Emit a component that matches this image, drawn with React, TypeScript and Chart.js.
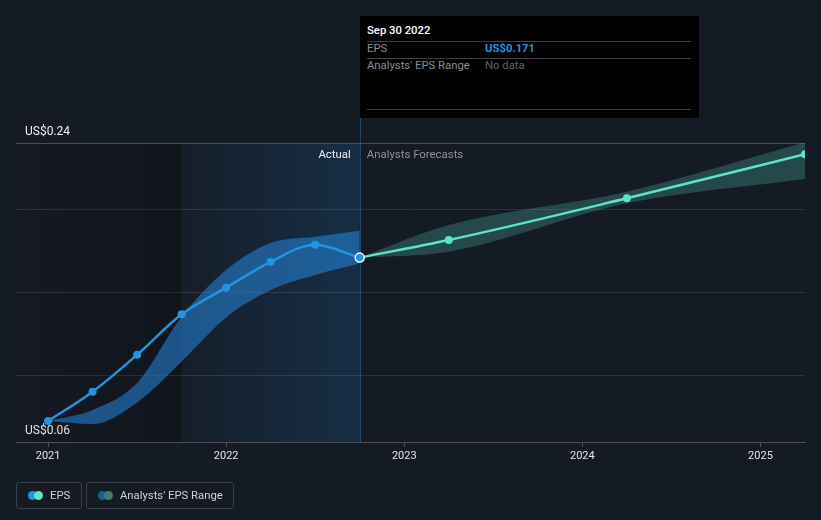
import React, { useEffect, useRef } from 'react';
import { Chart, registerables } from 'chart.js';
Chart.register(...registerables);

// x values are decimal years (quarter ends: 2021.0 = Dec 31 2020, 2021.25 = Mar 31 2021, ...)
const actualDates = [2021.0, 2021.25, 2021.5, 2021.75, 2022.0, 2022.25, 2022.5, 2022.75];
const actualEps = [0.0726, 0.0903, 0.1125, 0.1369, 0.1529, 0.1685, 0.1788, 0.171];
const actualRangeHigh = [0.0726, 0.0793, 0.0955, 0.1354, 0.1635, 0.1798, 0.1836, 0.1872];
const actualRangeLow = [0.0726, 0.0708, 0.0838, 0.1085, 0.1350, 0.1515, 0.1605, 0.1676];
const forecastDates = [2022.75, 2023.25, 2024.25, 2025.25];
const forecastEps = [0.171, 0.1816, 0.2067, 0.2332];
const forecastHigh = [0.171, 0.1906, 0.2107, 0.2404];
const forecastLow = [0.171, 0.1746, 0.2037, 0.2183];
const yearTicks = [2021, 2022, 2023, 2024, 2025];
const yTicks = [0.06, 0.1, 0.15, 0.2, 0.24];
const yLabelled = [0.06, 0.24];
const pastStart = 2021.75;
const todayX = 2022.75;
const xMin = 2020.82;
const xMax = 2025.25;

const FONT = 'Roboto, "Noto Sans", sans-serif';
const BLUE = '#2394df';
const TEAL = '#5fe3c8';

const pts = (xs: number[], ys: number[]) => xs.map((x, i) => ({ x, y: ys[i] }));

const regionPlugin = {
  id: 'regions',
  beforeDatasetsDraw(chart: any) {
    const { ctx, chartArea, scales } = chart;
    const x = scales.x;
    const x0 = chartArea.left;
    const x1 = x.getPixelForValue(pastStart);
    const x2 = x.getPixelForValue(todayX);
    const top = chartArea.top + 1;
    const bottom = chartArea.bottom;
    ctx.save();
    const g1 = ctx.createLinearGradient(x0, 0, x1, 0);
    g1.addColorStop(0, 'rgba(0,0,0,0.03)');
    g1.addColorStop(1, 'rgba(0,0,0,0.18)');
    ctx.fillStyle = g1;
    ctx.fillRect(x0, top, x1 - x0, bottom - top);
    const g2 = ctx.createLinearGradient(x1, 0, x2, 0);
    g2.addColorStop(0, 'rgba(33,150,243,0.03)');
    g2.addColorStop(1, 'rgba(33,150,243,0.16)');
    ctx.fillStyle = g2;
    ctx.fillRect(x1, top, x2 - x1, bottom - top);
    ctx.strokeStyle = 'rgba(40,110,170,0.55)';
    ctx.lineWidth = 1;
    ctx.beginPath();
    ctx.moveTo(Math.round(x2) + 0.5, 16);
    ctx.lineTo(Math.round(x2) + 0.5, bottom);
    ctx.stroke();
    ctx.font = `11.4px ${FONT}`;
    ctx.textBaseline = 'middle';
    ctx.textAlign = 'right';
    ctx.fillStyle = '#f0f0f0';
    ctx.fillText('Actual', x2 - 9, chartArea.top + 12);
    ctx.textAlign = 'left';
    ctx.fillStyle = '#8d9299';
    ctx.fillText('Analysts Forecasts', x2 + 7, chartArea.top + 12);
    ctx.restore();
  },
};

function EpsChart() {
  const ref = useRef<HTMLCanvasElement | null>(null);
  useEffect(() => {
    document.body.style.margin = '0';
    const canvas = ref.current;
    if (!canvas) return;
    const n = actualDates.length;
    const chart = new Chart(canvas, {
      type: 'line',
      data: {
        datasets: [
          {
            label: 'EPS',
            data: pts(actualDates, actualEps),
            borderColor: BLUE,
            backgroundColor: BLUE,
            borderWidth: 2.5,
            cubicInterpolationMode: 'monotone',
            pointRadius: actualDates.map((_, i) => (i === n - 1 ? 4.5 : 4)),
            pointBackgroundColor: BLUE,
            pointBorderColor: actualDates.map((_, i) => (i === n - 1 ? '#ffffff' : BLUE)),
            pointBorderWidth: actualDates.map((_, i) => (i === n - 1 ? 1.5 : 0)),
            fill: false,
            order: 0,
          },
          {
            label: 'EPS forecast',
            data: pts(forecastDates, forecastEps),
            borderColor: TEAL,
            backgroundColor: TEAL,
            borderWidth: 2.5,
            cubicInterpolationMode: 'monotone',
            pointRadius: forecastDates.map((_, i) => (i === 0 ? 0 : 4)),
            pointBorderWidth: 0,
            fill: false,
            order: 1,
          },
          {
            label: 'range high',
            data: pts(actualDates, actualRangeHigh),
            borderWidth: 0,
            pointRadius: 0,
            cubicInterpolationMode: 'monotone',
            backgroundColor: 'rgba(40,140,230,0.52)',
            borderColor: 'rgba(0,0,0,0)',
            fill: '+1',
            order: 2,
          },
          {
            label: 'range low',
            data: pts(actualDates, actualRangeLow),
            borderWidth: 0,
            pointRadius: 0,
            cubicInterpolationMode: 'monotone',
            borderColor: 'rgba(0,0,0,0)',
            fill: false,
            order: 3,
          },
          {
            label: 'forecast high',
            data: pts(forecastDates, forecastHigh),
            borderWidth: 0,
            pointRadius: 0,
            cubicInterpolationMode: 'monotone',
            backgroundColor: 'rgba(88,212,190,0.25)',
            borderColor: 'rgba(0,0,0,0)',
            fill: '+1',
            order: 4,
          },
          {
            label: 'forecast low',
            data: pts(forecastDates, forecastLow),
            borderWidth: 0,
            pointRadius: 0,
            cubicInterpolationMode: 'monotone',
            borderColor: 'rgba(0,0,0,0)',
            fill: false,
            order: 5,
          },
        ],
      },
      options: {
        animation: false,
        responsive: false,
        events: [],
        layout: { padding: { left: 16, right: 16, top: 143, bottom: 0 } },
        plugins: { legend: { display: false }, tooltip: { enabled: false } },
        scales: {
          x: {
            type: 'linear',
            min: xMin,
            max: xMax,
            afterBuildTicks: (s: any) => {
              s.ticks = yearTicks.map((v) => ({ value: v }));
            },
            afterFit: (s: any) => {
              s.height = 78;
            },
            ticks: {
              color: '#e6e6e6',
              font: { family: FONT, size: 11 },
              padding: 3,
              maxRotation: 0,
              autoSkip: false,
              callback: (v: any) => String(v),
            },
            grid: {
              display: true,
              drawOnChartArea: false,
              drawTicks: true,
              tickLength: 5,
              color: '#4a4f57',
            },
            border: { display: true, color: '#4a4f57', width: 1 },
          },
          y: {
            type: 'linear',
            min: 0.06,
            max: 0.24,
            afterBuildTicks: (s: any) => {
              s.ticks = yTicks.map((v) => ({ value: v }));
            },
            afterFit: (s: any) => {
              s.width = 0;
            },
            ticks: {
              mirror: true,
              padding: 9,
              labelOffset: -11,
              color: '#f0f0f0',
              font: { family: FONT, size: 12 },
              callback: (v: any) => (yLabelled.some((t) => Math.abs(t - v) < 1e-6) ? `US$${Number(v).toFixed(2)}` : ''),
            },
            grid: {
              drawTicks: false,
              color: (c: any) => (c.tick && Math.abs(c.tick.value - 0.24) < 1e-6 ? '#4a4f57' : '#2d333c'),
            },
            border: { display: false },
          },
        },
      },
      plugins: [regionPlugin],
    } as any);
    return () => chart.destroy();
  }, []);
  return <canvas ref={ref} width={821} height={520} style={{ display: 'block' }} />;
}

const rowLine: React.CSSProperties = { position: 'absolute', left: 7, right: 8, height: 1, background: '#3c3f44' };

function Tooltip() {
  return (
    <div
      style={{
        position: 'absolute',
        left: 360,
        top: 16,
        width: 339,
        height: 102,
        background: '#000000',
        fontFamily: FONT,
        fontSize: 11.3,
        lineHeight: '14px',
      }}
    >
      <div style={{ position: 'absolute', left: 7, top: 8, color: '#ffffff', fontWeight: 500 }}>Sep 30 2022</div>
      <div style={{ ...rowLine, top: 25 }} />
      <div style={{ position: 'absolute', left: 7, top: 26, color: '#8a8e94' }}>EPS</div>
      <div style={{ position: 'absolute', left: 125, top: 26, color: BLUE, fontWeight: 700 }}>US$0.171</div>
      <div style={{ ...rowLine, top: 42 }} />
      <div style={{ position: 'absolute', left: 7, top: 43, color: '#8a8e94' }}>Analysts' EPS Range</div>
      <div style={{ position: 'absolute', left: 125, top: 43, color: '#5f6369' }}>No data</div>
      <div style={{ ...rowLine, top: 93 }} />
    </div>
  );
}

function Dots({ a, b }: { a: string; b: string }) {
  return (
    <span style={{ position: 'relative', display: 'inline-block', width: 15, height: 9, marginRight: 7 }}>
      <span style={{ position: 'absolute', left: 0, top: 0, width: 9, height: 9, borderRadius: '50%', background: a }} />
      <span style={{ position: 'absolute', left: 6, top: 0, width: 9, height: 9, borderRadius: '50%', background: b }} />
    </span>
  );
}

function Legend() {
  const box: React.CSSProperties = {
    position: 'absolute',
    top: 482,
    height: 27,
    boxSizing: 'border-box',
    border: '1px solid #3a3f47',
    borderRadius: 3,
    display: 'flex',
    alignItems: 'center',
    paddingLeft: 11,
    color: '#cfd2d6',
    fontFamily: FONT,
    fontSize: 11.3,
  };
  return (
    <>
      <div style={{ ...box, left: 16, width: 66 }}>
        <Dots a={BLUE} b={TEAL} />
        EPS
      </div>
      <div style={{ ...box, left: 86, width: 148 }}>
        <Dots a="#1f5f8f" b="#3f7d74" />
        Analysts' EPS Range
      </div>
    </>
  );
}

export default function App() {
  return (
    <div style={{ position: 'relative', width: 821, height: 520, background: '#151b24', overflow: 'hidden' }}>
      <EpsChart />
      <Tooltip />
      <Legend />
    </div>
  );
}
